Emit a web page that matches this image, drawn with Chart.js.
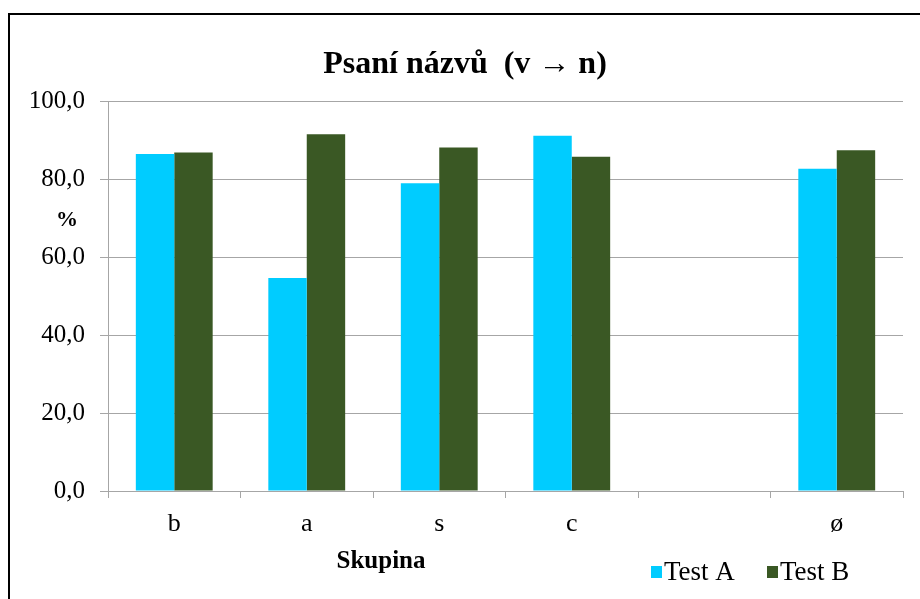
<!DOCTYPE html>
<html>
<head>
<meta charset="utf-8">
<script src="https://cdn.jsdelivr.net/npm/chart.js@4/dist/chart.umd.min.js"></script>
<style>
  html, body { margin: 0; padding: 0; background: #fff; }
  #wrap { width: 920px; height: 599px; }
</style>
</head>
<body>
<div id="wrap"><canvas id="graf" width="920" height="599"></canvas></div>
<script>
const skupiny = ['b', 'a', 's', 'c', '', 'ø'];
const testA = [86.4, 54.6, 78.9, 91.1, null, 82.6];
const testB = [86.8, 91.5, 88.1, 85.7, null, 87.4];
const yTickLabels = ['0,0', '20,0', '40,0', '60,0', '80,0', '100,0'];

const serif = '"Liberation Serif", "Times New Roman", serif';

// titulky, legenda a ramecek kreslime sami, aby sedela pozice
const popisky = {
    id: 'popisky',
    beforeDraw(chart) {
        const c = chart.ctx;
        c.save();
        c.fillStyle = '#fff';
        c.fillRect(0, 0, chart.width, chart.height);
        c.strokeStyle = '#000';
        c.lineWidth = 2;
        c.strokeRect(9, 14, 1000, 1000);
        c.restore();
    },
    afterDraw(chart) {
        const c = chart.ctx;
        c.save();
        c.fillStyle = '#000';
        c.textAlign = 'center';
        c.textBaseline = 'alphabetic';
        c.font = 'bold 32px ' + serif;
        c.fillText('Psaní názvů  (v → n)', 465, 73);

        c.font = 'bold 22px ' + serif;
        c.textBaseline = 'middle';
        c.fillText('%', 67, 220);

        c.font = 'bold 25px ' + serif;
        c.textBaseline = 'alphabetic';
        c.fillText('Skupina', 381, 568);

        // legenda
        c.font = '27px ' + serif;
        c.textAlign = 'left';
        const pozice = [651, 767];
        chart.data.datasets.forEach((ds, i) => {
            const x = pozice[i];
            c.fillStyle = ds.backgroundColor;
            c.fillRect(x, 566, 11, 12);
            c.fillStyle = '#000';
            c.fillText(ds.label, x + 13, 580);
        });
        c.restore();
    }
};

const ctx = document.getElementById('graf').getContext('2d');
const graf = new Chart(ctx, {
    type: 'bar',
    data: {
        labels: skupiny,
        datasets: [{
            label: 'Test A',
            data: testA,
            backgroundColor: '#00CCFF',
            borderWidth: 0
        }, {
            label: 'Test B',
            data: testB,
            backgroundColor: '#3A5824',
            borderWidth: 0
        }]
    },
    options: {
        responsive: false,
        animation: false,
        layout: { padding: { top: 101, right: 17, left: 0, bottom: 0 } },
        datasets: { bar: { categoryPercentage: 0.58, barPercentage: 1.0 } },
        plugins: {
            legend: { display: false },
            title: { display: false },
            tooltip: { enabled: false }
        },
        scales: {
            y: {
                min: 0,
                max: 100,
                afterFit: s => { s.width = 108; },
                ticks: {
                    stepSize: 20,
                    padding: 15,
                    color: '#000',
                    font: { family: serif, size: 25 },
                    callback: (v, i) => yTickLabels[i]
                },
                grid: { color: '#A6A6A6', tickLength: 8, lineWidth: 1 },
                border: { color: '#A6A6A6' }
            },
            x: {
                afterFit: s => { s.height = 108; },
                ticks: {
                    padding: 11,
                    color: '#000',
                    font: { family: serif, size: 26 }
                },
                grid: {
                    color: '#A6A6A6',
                    drawOnChartArea: false,
                    tickLength: 7,
                    offset: true
                },
                border: { color: '#A6A6A6' }
            }
        }
    },
    plugins: [popisky]
});
</script>
</body>
</html>
